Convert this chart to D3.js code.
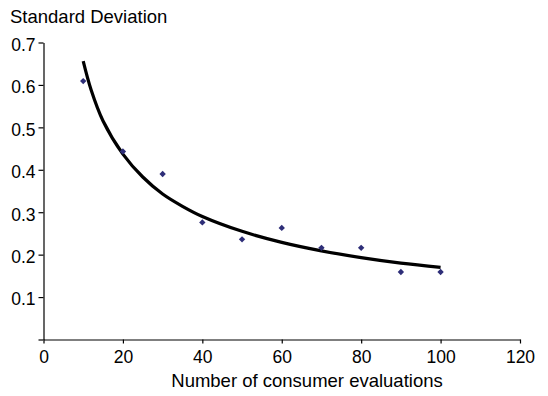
<!DOCTYPE html>
<html>
<head>
<meta charset="utf-8">
<script src="https://cdn.jsdelivr.net/npm/d3@7"></script>
<style>
    body { margin: 0; background: #fff; }
    text { font-family: "Liberation Sans", Arial, sans-serif; fill: #000; }
</style>
</head>
<body>
<div id="chart"></div>
<script>
// observed standard deviations
const evaluations = [10, 20, 30, 40, 50, 60, 70, 80, 90, 100];
const stdDev = [0.609, 0.443, 0.39, 0.276, 0.236, 0.263, 0.216, 0.216, 0.159, 0.159];

// trend line
const trendX = [10, 12, 15, 20, 25, 30, 35, 40, 50, 60, 70, 80, 90, 100];
const trendY = [0.656, 0.588, 0.515, 0.437, 0.383, 0.343, 0.314, 0.29, 0.255, 0.229, 0.209, 0.193, 0.18, 0.17];

const xTicks = [0, 20, 40, 60, 80, 100, 120];
const yTicks = [0, 0.1, 0.2, 0.3, 0.4, 0.5, 0.6, 0.7];

const width = 548, height = 396;
const margin = {top: 42.5, right: 28, bottom: 56.5, left: 43.5};
const fontFamily = '"Liberation Sans", Arial, sans-serif';

const svg = d3.select('#chart')
    .append('svg')
    .attr('width', width)
    .attr('height', height);

const x = d3.scaleLinear()
    .domain([0, 120])
    .range([margin.left, width - margin.right]);

const y = d3.scaleLinear()
    .domain([0, 0.7])
    .range([height - margin.bottom, margin.top]);

// X axis
svg.append('g')
    .attr('transform', `translate(0,${height - margin.bottom})`)
    .call(d3.axisBottom(x).tickValues(xTicks).tickSize(4).tickSizeOuter(0).tickPadding(7))
    .call(g => g.select('.domain').attr('stroke', '#000').attr('stroke-width', 1.2))
    .call(g => g.selectAll('.tick line').attr('stroke', '#000').attr('stroke-width', 1.2))
    .call(g => g.selectAll('.tick text').attr('font-size', 17.5).attr('font-family', fontFamily));

// Y axis
svg.append('g')
    .attr('transform', `translate(${margin.left},0)`)
    .call(d3.axisLeft(y).tickValues(yTicks).tickSize(5).tickSizeOuter(0).tickPadding(3)
        .tickFormat(d => d === 0 ? '' : d3.format('.1f')(d)))
    .call(g => g.select('.domain').attr('stroke', '#000').attr('stroke-width', 1.2))
    .call(g => g.selectAll('.tick line').attr('stroke', '#000').attr('stroke-width', 1.2))
    .call(g => g.selectAll('.tick text').attr('font-size', 17.5).attr('dy', '0.45em')
        .attr('font-family', fontFamily));

// trend line
svg.append('path')
    .datum(d3.zip(trendX, trendY))
    .attr('fill', 'none')
    .attr('stroke', '#000')
    .attr('stroke-width', 3.2)
    .attr('d', d3.line()
        .x(d => x(d[0]))
        .y(d => y(d[1]))
        .curve(d3.curveCatmullRom));

// data points
svg.append('g')
    .selectAll('path')
    .data(d3.zip(evaluations, stdDev))
    .enter()
    .append('path')
    .attr('transform', d => `translate(${x(d[0])},${y(d[1])})`)
    .attr('d', d3.symbol(d3.symbolDiamond2, 26))
    .attr('fill', '#2e2e78');

// titles
svg.append('text')
    .attr('x', 10)
    .attr('y', 23)
    .attr('font-size', 18.5)
    .text('Standard Deviation');

svg.append('text')
    .attr('x', 307)
    .attr('y', 387)
    .attr('text-anchor', 'middle')
    .attr('font-size', 18.5)
    .text('Number of consumer evaluations');
</script>
</body>
</html>
